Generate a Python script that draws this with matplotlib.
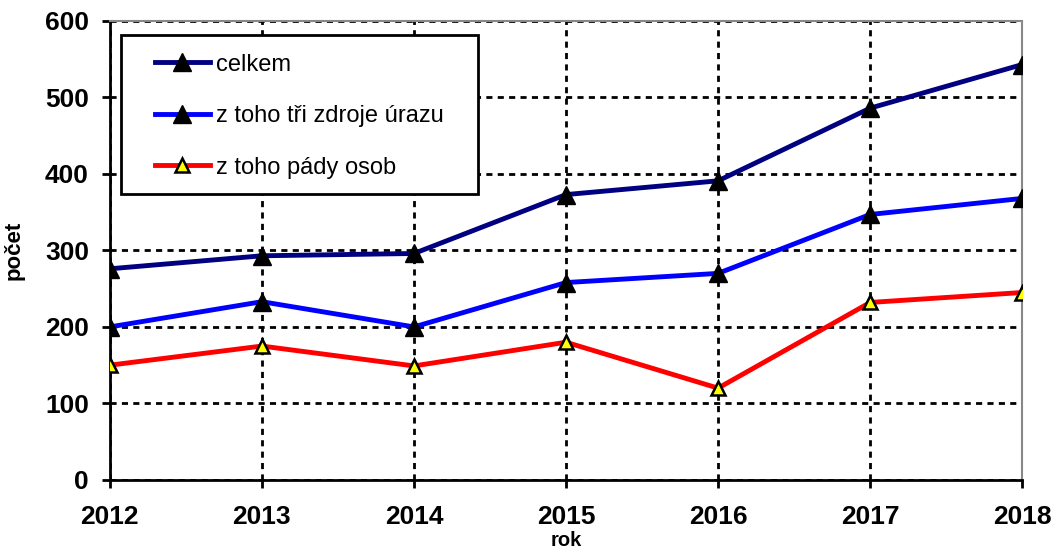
import matplotlib
matplotlib.use("Agg")
import matplotlib.pyplot as plt
from matplotlib.patches import Rectangle
from matplotlib.ticker import MultipleLocator

# ── Data ──
years = [2012, 2013, 2014, 2015, 2016, 2017, 2018]
celkem = [276, 293, 296, 373, 391, 486, 543]
tri_zdroje = [200, 233, 200, 258, 270, 347, 368]
pady_osob = [150, 175, 149, 180, 120, 232, 245]

labels = ["celkem", "z toho tři zdroje úrazu", "z toho pády osob"]

plt.rcParams["font.family"] = ["Liberation Sans", "DejaVu Sans"]

fig = plt.figure(figsize=(10.56, 5.51), dpi=100)
ax = fig.add_axes([0.104, 0.129, 0.864, 0.833])

ax.plot(years, celkem, color="#000080", lw=3.5, marker="^", ms=12.5,
        mfc="black", mec="black", label=labels[0], zorder=3)
ax.plot(years, tri_zdroje, color="#0000ff", lw=3.5, marker="^", ms=12.5,
        mfc="black", mec="black", label=labels[1], zorder=3)
ax.plot(years, pady_osob, color="#ff0000", lw=3.5, marker="^", ms=10,
        mfc="#ffff00", mec="black", mew=1.8, label=labels[2], zorder=3)

ax.set_xlim(years[0], years[-1])
ax.set_ylim(0, 600)
ax.set_xticks(years)
ax.yaxis.set_major_locator(MultipleLocator(100))

ax.grid(True, color="black", linestyle=(0, (2.2, 1.9)), linewidth=2)
ax.set_axisbelow(True)

for side in ["left", "bottom"]:
    ax.spines[side].set_linewidth(2)
    ax.spines[side].set_color("black")
for side in ["top", "right"]:
    ax.spines[side].set_linewidth(1.5)
    ax.spines[side].set_color("#888888")

ax.tick_params(axis="both", direction="out", length=6, width=2, labelsize=19)
ax.tick_params(axis="y", pad=9)
ax.tick_params(axis="x", pad=12)
for lbl in ax.get_xticklabels() + ax.get_yticklabels():
    lbl.set_fontweight("bold")

ax.set_ylabel("počet", fontsize=16, fontweight="bold")
ax.yaxis.set_label_coords(-0.093, 0.5)
ax.set_xlabel("rok", fontsize=14.5, fontweight="bold", va="bottom")
ax.xaxis.set_label_coords(0.5, -0.153)

# legend frame drawn separately (wider horizontal padding than vertical)
ax.add_patch(Rectangle((0.012, 0.623), 0.3915, 0.3465, transform=ax.transAxes,
                       facecolor="white", edgecolor="black", lw=2, zorder=4))
leg = ax.legend(loc="upper left", bbox_to_anchor=(0.049, 0.929), fontsize=17,
                frameon=False, handlelength=2.35, labelspacing=1.25,
                borderpad=0, handletextpad=0.25, borderaxespad=0)
leg.set_zorder(5)

fig.savefig("out.png", dpi=100)
